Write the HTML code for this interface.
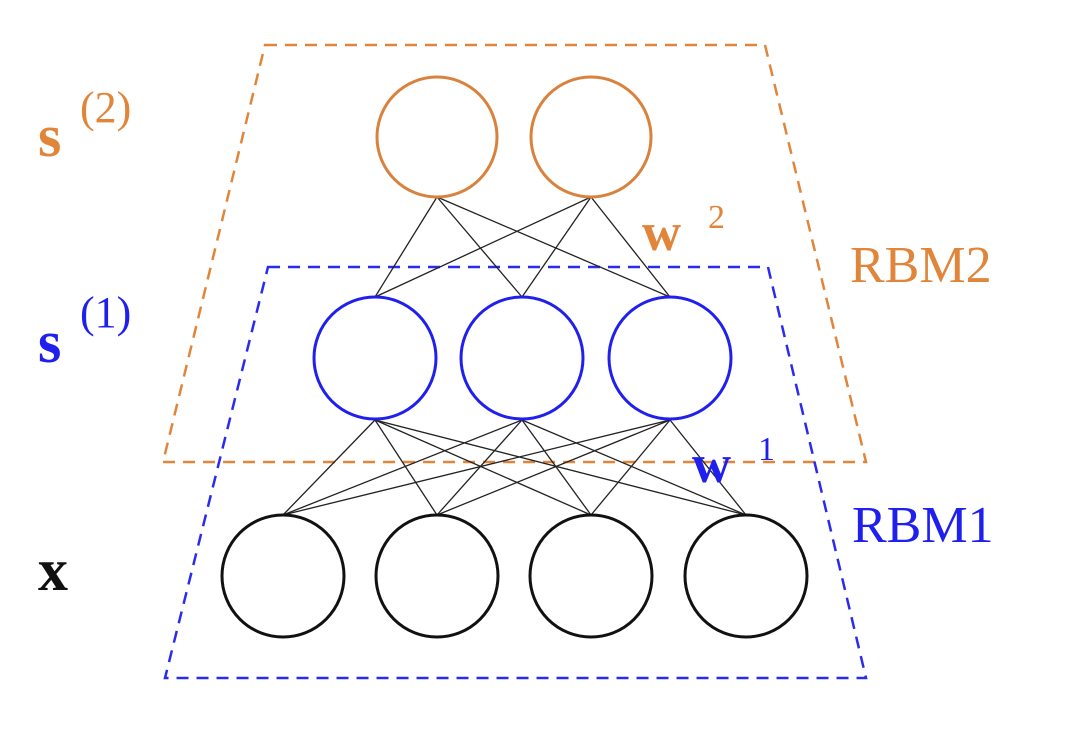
<!DOCTYPE html>
<html><head><style>body{margin:0;background:#fff}svg{display:block}</style></head><body>
<svg width="1084" height="735" xmlns="http://www.w3.org/2000/svg" font-family="Liberation Serif, serif">
<g fill="none" stroke-width="2.5" stroke-dasharray="12,8">
<polygon points="265,45 765,45 866,462 163,462" stroke="#e0853a"/>
<polygon points="268,267 768,267 866,678 165,678" stroke="#2a2af0"/>
</g>
<g stroke="#222" stroke-width="1.3">
<line x1="437" y1="197" x2="375" y2="297"/><line x1="437" y1="197" x2="522" y2="297"/><line x1="437" y1="197" x2="670" y2="297"/>
<line x1="591" y1="197" x2="375" y2="297"/><line x1="591" y1="197" x2="522" y2="297"/><line x1="591" y1="197" x2="670" y2="297"/>
<line x1="375" y1="420" x2="283" y2="515"/><line x1="375" y1="420" x2="437" y2="515"/><line x1="375" y1="420" x2="591" y2="515"/><line x1="375" y1="420" x2="746" y2="515"/>
<line x1="522" y1="420" x2="283" y2="515"/><line x1="522" y1="420" x2="437" y2="515"/><line x1="522" y1="420" x2="591" y2="515"/><line x1="522" y1="420" x2="746" y2="515"/>
<line x1="670" y1="420" x2="283" y2="515"/><line x1="670" y1="420" x2="437" y2="515"/><line x1="670" y1="420" x2="591" y2="515"/><line x1="670" y1="420" x2="746" y2="515"/>
</g>
<g fill="none" stroke-width="3">
<circle cx="437" cy="137" r="60" stroke="#d9823d"/><circle cx="591" cy="137" r="60" stroke="#d9823d"/>
<circle cx="375" cy="358" r="61" stroke="#2020ee"/><circle cx="522" cy="358" r="61" stroke="#2020ee"/><circle cx="670" cy="358" r="61" stroke="#2020ee"/>
<circle cx="283" cy="576" r="61" stroke="#111"/><circle cx="437" cy="576" r="61" stroke="#111"/><circle cx="591" cy="576" r="61" stroke="#111"/><circle cx="746" cy="576" r="61" stroke="#111"/>
</g>
<g font-size="60">
<text x="38" y="156" fill="#e0853a" font-weight="bold">s</text><text x="80" y="122" fill="#e0853a" font-size="44">(2)</text>
<text x="38" y="362" fill="#2020ee" font-weight="bold">s</text><text x="80" y="327" fill="#2020ee" font-size="44">(1)</text>
<text x="38" y="590" fill="#111" font-weight="bold">x</text>
<text x="642" y="250" fill="#e0853a" font-weight="bold" font-size="54">w</text><text x="708" y="228" fill="#e0853a" font-size="34">2</text>
<text x="692" y="482" fill="#2020ee" font-weight="bold" font-size="54">w</text><text x="758" y="460" fill="#2020ee" font-size="34">1</text>
<text x="850" y="282" fill="#e0853a" font-size="52">RBM2</text>
<text x="852" y="542" fill="#2020ee" font-size="52">RBM1</text>
</g>
</svg>
</body></html>
